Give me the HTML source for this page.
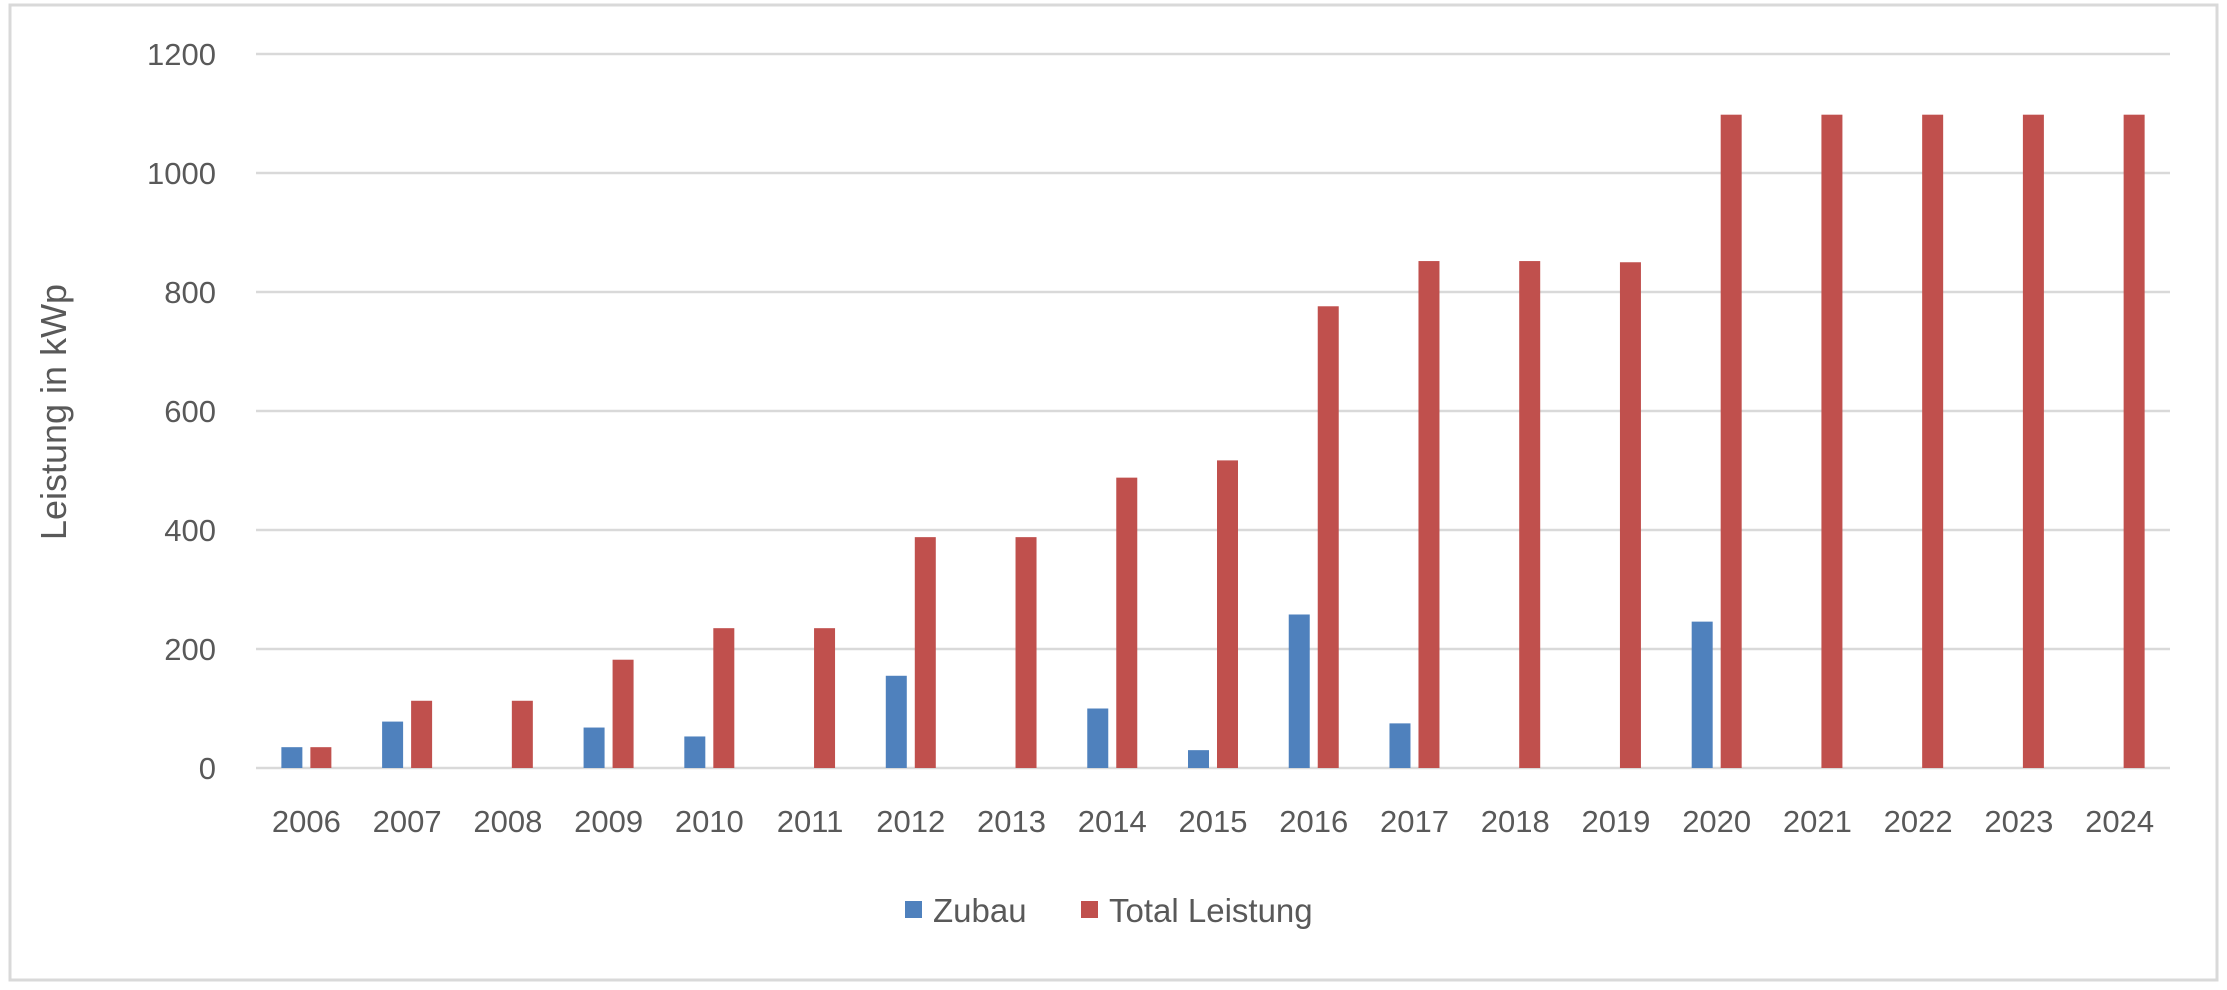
<!DOCTYPE html>
<html><head><meta charset="utf-8"><style>
html,body{margin:0;padding:0;background:#fff;}
svg{display:block;font-family:"Liberation Sans",sans-serif;}
</style></head><body>
<svg id="chart" width="2227" height="990">
<rect x="10" y="5" width="2207" height="975" fill="#fff" stroke="#d9d9d9" stroke-width="3"/>
<g id="grid"></g><g id="bars"></g><g id="labels"></g>
<text x="0" y="0" transform="translate(66,412) rotate(-90)" text-anchor="middle" font-size="36" fill="#595959">Leistung in kWp</text>
<g>
<rect x="905" y="901" width="17" height="17" fill="#4f81bd"/>
<text x="933" y="922" font-size="33" fill="#595959">Zubau</text>
<rect x="1081" y="901" width="17" height="17" fill="#c0504d"/>
<text x="1109" y="922" font-size="33" fill="#595959">Total Leistung</text>
</g>
</svg>
<script>
const categories=["2006","2007","2008","2009","2010","2011","2012","2013","2014","2015","2016","2017","2018","2019","2020","2021","2022","2023","2024"];
const zubau=[35,78,0,68,53,0,155,0,100,30,258,75,0,0,246,0,0,0,0];
const total=[35,113,113,182,235,235,388,388,488,517,776,852,852,850,1098,1098,1098,1098,1098];
const yTicks=[0,200,400,600,800,1000,1200];
const NS="http://www.w3.org/2000/svg";
const L=256,R=2170,T=54,B=768,yMax=1200;
const y=v=>B-(v/yMax)*(B-T);
const bw=(R-L)/categories.length;
const x=i=>L+bw*i+bw/2;
const mk=(t,a,p)=>{const e=document.createElementNS(NS,t);for(const k in a)e.setAttribute(k,a[k]);p.appendChild(e);return e;};
const grid=document.getElementById('grid'),bars=document.getElementById('bars'),lab=document.getElementById('labels');
yTicks.forEach(v=>{
 const l=mk('line',{x1:L,x2:R,y1:y(v),y2:y(v),stroke:'#d9d9d9','stroke-width':2.5},grid);
 
 
 const t=mk('text',{x:216,y:y(v)+11,'text-anchor':'end','font-size':31,fill:'#595959'},lab);
 t.textContent=v;
 
 
});
const w=21,g=8;
categories.forEach((c,i)=>{
 if(zubau[i]>0){
  const r=mk('rect',{x:x(i)-g/2-w,y:y(zubau[i]),width:w,height:B-y(zubau[i]),fill:'#4f81bd'},bars);
  
  
 }
 const r2=mk('rect',{x:x(i)+g/2,y:y(total[i]),width:w,height:B-y(total[i]),fill:'#c0504d'},bars);
 
 
 const t=mk('text',{x:x(i),y:832,'text-anchor':'middle','font-size':31,fill:'#595959'},lab);
 t.textContent=c;
 
 
});
</script>
</body></html>
